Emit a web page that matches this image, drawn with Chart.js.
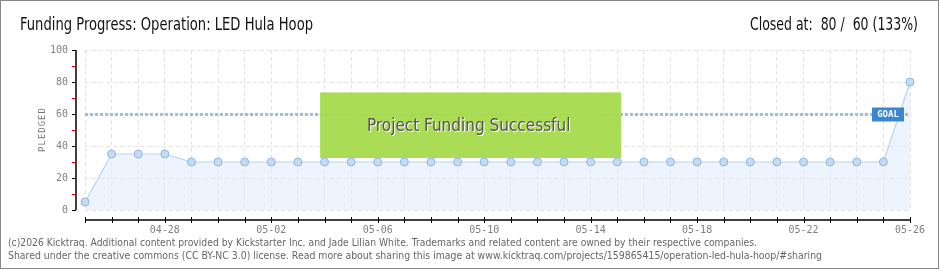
<!DOCTYPE html>
<html>
<head>
<meta charset="utf-8">
<script src="https://cdn.jsdelivr.net/npm/chart.js@4"></script>
<style>
    html, body { margin: 0; padding: 0; background: #fff; }
    #wrap { width: 940px; height: 270px; position: relative; }
</style>
</head>
<body>
<div id="wrap"><canvas id="chart" width="940" height="270"></canvas></div>
<script>
// data
const dates = ['04-25', '04-26', '04-27', '04-28', '04-29', '04-30',
    '05-01', '05-02', '05-03', '05-04', '05-05', '05-06', '05-07', '05-08', '05-09', '05-10',
    '05-11', '05-12', '05-13', '05-14', '05-15', '05-16', '05-17', '05-18', '05-19', '05-20',
    '05-21', '05-22', '05-23', '05-24', '05-25', '05-26'];
const pledged = [5, 35, 35, 35, 30, 30,
    30, 30, 30, 30, 30, 30, 30, 30, 30, 30,
    30, 30, 30, 30, 30, 30, 30, 30, 30, 30,
    30, 30, 30, 30, 30, 80];
const yTicks = [0, 20, 40, 60, 80, 100];
const goal = 60;

const titleText = 'Funding Progress: Operation: LED Hula Hoop';
const closedText = 'Closed at:  80 /  60 (133%)';
const footer1 = '(c)2026 Kicktraq. Additional content provided by Kickstarter Inc. and Jade Lilian White. Trademarks and related content are owned by their respective companies.';
const footer2 = 'Shared under the creative commons (CC BY-NC 3.0) license. Read more about sharing this image at www.kicktraq.com/projects/159865415/operation-led-hula-hoop/#sharing';

// everything that is not a data mark: frame, titles, axes, goal, banner, footer
const decorations = {
    id: 'decorations',
    beforeDraw(chart) {
        const ctx = chart.ctx;
        ctx.save();
        ctx.fillStyle = '#fff';
        ctx.fillRect(0, 0, chart.width, chart.height);
        ctx.restore();
    },
    afterDatasetsDraw(chart) {
        const ctx = chart.ctx;
        const area = chart.chartArea;
        const xs = chart.scales.x;
        const ys = chart.scales.y;
        ctx.save();

        // goal line
        const gy = Math.round(ys.getPixelForValue(goal)) + 0.5;
        ctx.strokeStyle = '#9dbfe5';
        ctx.lineWidth = 3;
        ctx.setLineDash([3, 2]);
        ctx.beginPath();
        ctx.moveTo(area.left, gy);
        ctx.lineTo(area.right, gy);
        ctx.stroke();
        ctx.setLineDash([]);

        // goal badge
        ctx.fillStyle = '#3b86d1';
        ctx.fillRect(area.right - 38, gy - 7, 32, 14);
        ctx.fillStyle = '#fff';
        ctx.font = 'bold 9px "DejaVu Sans Mono"';
        ctx.textAlign = 'center';
        ctx.textBaseline = 'middle';
        ctx.fillText('GOAL', area.right - 22, gy + 0.5);

        // success banner
        const bx = area.left + (area.right - area.left) * 0.285;
        const bw = (area.right - area.left) * 0.365;
        const by = ys.getPixelForValue(73.5);
        const bh = ys.getPixelForValue(32.5) - by;
        ctx.fillStyle = 'rgba(166,218,76,0.95)';
        ctx.fillRect(bx, by, bw, bh);
        ctx.font = '17px "DejaVu Sans Condensed"';
        ctx.textAlign = 'center';
        ctx.textBaseline = 'alphabetic';
        ctx.fillStyle = '#fff';
        ctx.fillText('Project Funding Successful', bx + bw / 2 - 1, by + bh / 2 + 7, 207);
        ctx.fillStyle = '#555';
        ctx.fillText('Project Funding Successful', bx + bw / 2 - 2, by + bh / 2 + 6, 207);

        // y axis line + ticks (offset from plot like the original)
        const ax = area.left - 9;
        ctx.strokeStyle = '#000';
        ctx.lineWidth = 1.5;
        ctx.beginPath();
        ctx.moveTo(ax, ys.getPixelForValue(100));
        ctx.lineTo(ax, ys.getPixelForValue(0));
        ctx.stroke();
        ctx.lineWidth = 1;
        for (let v = 0; v <= 100; v += 10) {
            const y = Math.round(ys.getPixelForValue(v)) + 0.5;
            ctx.strokeStyle = v % 20 === 0 ? '#000' : '#e00';
            ctx.beginPath();
            ctx.moveTo(ax - 4, y);
            ctx.lineTo(ax, y);
            ctx.stroke();
        }

        // x axis line + ticks
        const ay = area.bottom + 10;
        ctx.strokeStyle = '#000';
        ctx.lineWidth = 1.5;
        ctx.beginPath();
        ctx.moveTo(area.left, ay);
        ctx.lineTo(area.right, ay);
        ctx.stroke();
        ctx.lineWidth = 1;
        dates.forEach((d, i) => {
            const x = Math.round(xs.getPixelForValue(i)) + 0.5;
            ctx.beginPath();
            ctx.moveTo(x, ay - 3);
            ctx.lineTo(x, ay + 3);
            ctx.stroke();
        });

        // axis title, spaced out letter by letter
        ctx.save();
        ctx.translate(43, (area.top + area.bottom) / 2);
        ctx.rotate(-Math.PI / 2);
        ctx.fillStyle = '#777';
        ctx.font = '9px "DejaVu Sans Mono"';
        ctx.textAlign = 'center';
        ctx.textBaseline = 'middle';
        const label = 'PLEDGED';
        const step = 6.4;
        for (let i = 0; i < label.length; i++) {
            ctx.fillText(label[i], (i - (label.length - 1) / 2) * step, 0);
        }
        ctx.restore();

        // titles
        ctx.fillStyle = '#111';
        ctx.font = '17px "DejaVu Sans Condensed"';
        ctx.textAlign = 'left';
        ctx.textBaseline = 'alphabetic';
        ctx.fillText(titleText, 20, 30, 293);
        ctx.textAlign = 'right';
        ctx.fillText(closedText, 918, 30, 168);

        // footer
        ctx.fillStyle = '#666';
        ctx.font = '10px "DejaVu Sans"';
        ctx.textAlign = 'left';
        ctx.fillText(footer1, 8, 246, 749);
        ctx.fillText(footer2, 8, 259, 814);

        // frame
        ctx.strokeStyle = '#888';
        ctx.lineWidth = 1;
        ctx.strokeRect(0.5, 0.5, 938, 268);
        ctx.restore();
    }
};

new Chart(document.getElementById('chart'), {
    type: 'line',
    data: {
        labels: dates,
        datasets: [{
            data: pledged,
            borderColor: '#b7d3f2',
            borderWidth: 1.2,
            backgroundColor: 'rgba(222,235,251,0.55)',
            fill: 'origin',
            tension: 0,
            pointRadius: 4,
            pointBackgroundColor: '#c3dbf5',
            pointBorderColor: '#93b6de',
            pointBorderWidth: 1
        }]
    },
    options: {
        responsive: false,
        animation: false,
        events: [],
        layout: { padding: { left: 50, right: 30, top: 50, bottom: 30 } },
        plugins: { legend: { display: false }, tooltip: { enabled: false } },
        scales: {
            x: {
                offset: false,
                afterFit(scale) { scale.height = 30; },
                grid: { color: '#e3e3e3', drawTicks: false },
                border: { display: false, dash: [4, 3] },
                ticks: {
                    autoSkip: false,
                    maxRotation: 0,
                    padding: 14,
                    color: '#808080',
                    font: { family: 'DejaVu Sans Mono', size: 10 },
                    callback: (v, i) => (i % 4 === 3 ? dates[i] : '')
                }
            },
            y: {
                min: 0,
                max: 100,
                afterFit(scale) { scale.width = 35; },
                afterBuildTicks(scale) { scale.ticks = yTicks.map(v => ({ value: v })); },
                grid: { color: '#e3e3e3', drawTicks: false },
                border: { display: false, dash: [4, 3] },
                ticks: { padding: 17, color: '#808080', font: { family: 'DejaVu Sans Mono', size: 10 } }
            }
        }
    },
    plugins: [decorations]
});
</script>
</body>
</html>
